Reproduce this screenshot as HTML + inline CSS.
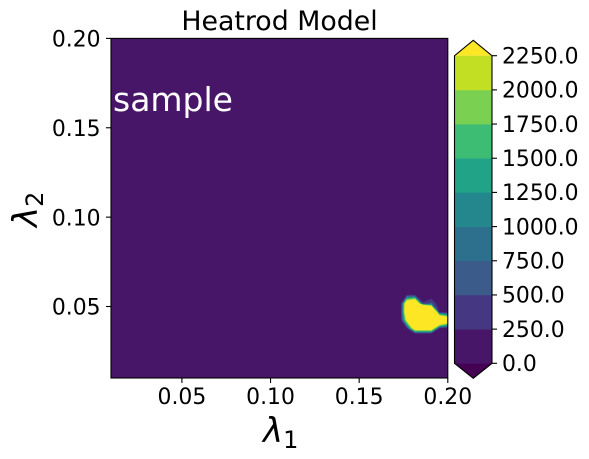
<!DOCTYPE html>
<html>
<head>
<meta charset="utf-8">
<style>
html,body{margin:0;padding:0;background:#fff;width:589px;height:459px;overflow:hidden}
svg{display:block}
text{font-family:"DejaVu Sans","Liberation Sans",sans-serif;fill:#000}
</style>
</head>
<body>
<svg id="chart" xmlns="http://www.w3.org/2000/svg" width="589" height="459" viewBox="0 0 589 459">
  <text x="279.5" y="30" font-size="26.8" text-anchor="middle">Heatrod Model</text>
  <g id="plot"></g>
  <text x="113" y="111" font-size="33" style="fill:#fff">sample</text>
  <g id="axes"></g>
  <text x="263" y="442" font-size="34" font-style="italic">λ<tspan font-size="24" font-style="normal" dy="6">1</tspan></text>
  <text transform="translate(37 227) rotate(-90)" font-size="34" font-style="italic">λ<tspan font-size="24" font-style="normal" dy="6">2</tspan></text>
  <g id="colorbar"></g>
</svg>
<script>
// Contour grid (values in the untouched region are zero)
const lambda1 = [0.01, 0.16756, 0.17339, 0.17683, 0.1815, 0.1861, 0.19073, 0.19537, 0.2];
const lambda2 = [0.01, 0.03462, 0.0378, 0.04244, 0.04707, 0.05171, 0.05634, 0.06098, 0.2];
const fieldRows = [
  [0, 0, 0, 0, 0, 0, 0, 0, 0],
  [0, 0, 0, 0, 0, 0, 0, 0, 0],
  [0, 0, 0, 200, 3200, 3200, 3200, 250, 0],
  [0, 0, 0, 2500, 6000, 6000, 6000, 4900, 3500],
  [0, 0, 0, 3500, 8000, 10500, 6000, 0, 0],
  [0, 0, 0, 3200, 4260, 310, 600, 0, 0],
  [0, 0, 0, 260, 260, 0, 0, 0, 0],
  [0, 0, 0, 0, 0, 0, 0, 0, 0],
  [0, 0, 0, 0, 0, 0, 0, 0, 0]
];
const levels = [0, 250, 500, 750, 1000, 1250, 1500, 1750, 2000, 2250];
const levelLabels = ["0.0", "250.0", "500.0", "750.0", "1000.0", "1250.0", "1500.0", "1750.0", "2000.0", "2250.0"];
const bandColors = ["#481668", "#453781", "#3b5b8b", "#2d708e", "#24878e", "#20a386", "#3dbc74", "#7ad151", "#c2df23", "#fde725"];
const underColor = "#440154";
const xTicks = [0.05, 0.10, 0.15, 0.20];
const yTicks = [0.05, 0.10, 0.15, 0.20];
const tickLabels = ["0.05", "0.10", "0.15", "0.20"];

const NS = "http://www.w3.org/2000/svg";
const L = 111, R = 447.8, T = 38.4, B = 378;
const sx = v => L + (v - 0.01) / 0.19 * (R - L);
const sy = v => B - (v - 0.01) / 0.19 * (B - T);
const cbL = 454.5, cbR = 492, cb0 = 363.3, cbTop = 55.7;
const cy = v => cb0 - (v - levels[0]) / (levels[levels.length - 1] - levels[0]) * (cb0 - cbTop);
const FS = 21.9;

function el(tag, attrs, parent) {
  const e = document.createElementNS(NS, tag);
  for (const k in attrs) e.setAttribute(k, attrs[k]);
  parent.appendChild(e);
  return e;
}

function clipCell(corners, level) {
  const out = [];
  for (let i = 0; i < corners.length; i++) {
    const a = corners[i], b = corners[(i + 1) % corners.length];
    const ai = a[2] >= level, bi = b[2] >= level;
    if (ai) out.push(a);
    if (ai !== bi) {
      const t = (level - a[2]) / (b[2] - a[2]);
      out.push([a[0] + t * (b[0] - a[0]), a[1] + t * (b[1] - a[1]), level]);
    }
  }
  return out;
}

const plot = document.getElementById("plot");
levels.forEach((level, li) => {
  let d = "";
  for (let r = 0; r < lambda2.length - 1; r++) {
    for (let c = 0; c < lambda1.length - 1; c++) {
      const quad = [
        [sx(lambda1[c]), sy(lambda2[r]), fieldRows[r][c]],
        [sx(lambda1[c + 1]), sy(lambda2[r]), fieldRows[r][c + 1]],
        [sx(lambda1[c + 1]), sy(lambda2[r + 1]), fieldRows[r + 1][c + 1]],
        [sx(lambda1[c]), sy(lambda2[r + 1]), fieldRows[r + 1][c]]
      ];
      const poly = clipCell(quad, level);
      if (poly.length > 2) {
        d += "M" + poly.map(p => p[0].toFixed(2) + " " + p[1].toFixed(2)).join("L") + "Z";
      }
    }
  }
  const band = el("path", {d: d, fill: bandColors[li]}, plot);
  
  
});

const axes = document.getElementById("axes");
const frame = el("rect", {x: L, y: T, width: R - L, height: B - T, fill: "none", stroke: "#000", "stroke-width": 1.1}, axes);



xTicks.forEach((v, i) => {
  const x = sx(v);
  const tick = el("line", {x1: x, x2: x, y1: B, y2: B + 5, stroke: "#000", "stroke-width": 1.1}, axes);
  
  
  const label = el("text", {x: x, y: 404, "font-size": FS, "text-anchor": "middle"}, axes);
  
  
  label.textContent = tickLabels[i];
});

yTicks.forEach((v, i) => {
  const y = sy(v);
  const tick = el("line", {x1: L - 5, x2: L, y1: y, y2: y, stroke: "#000", "stroke-width": 1.1}, axes);
  
  
  const label = el("text", {x: 100.6, y: y + 8.2, "font-size": FS, "text-anchor": "end"}, axes);
  
  
  label.textContent = tickLabels[i];
});

const cbar = document.getElementById("colorbar");
const cbMid = (cbL + cbR) / 2;
const under = el("polygon", {points: `${cbL},${cb0} ${cbR},${cb0} ${cbMid},${cb0 + 15}`, fill: underColor}, cbar);


const over = el("polygon", {points: `${cbL},${cbTop} ${cbR},${cbTop} ${cbMid},${cbTop - 15.4}`, fill: bandColors[bandColors.length - 1]}, cbar);


for (let i = 0; i < levels.length - 1; i++) {
  const seg = el("rect", {x: cbL, y: cy(levels[i + 1]), width: cbR - cbL, height: cy(levels[i]) - cy(levels[i + 1]) + 0.3, fill: bandColors[i]}, cbar);
  
  
}
const outline = el("polygon", {points: `${cbL},${cb0} ${cbMid},${cb0 + 15} ${cbR},${cb0} ${cbR},${cbTop} ${cbMid},${cbTop - 15.4} ${cbL},${cbTop}`, fill: "none", stroke: "#000", "stroke-width": 1.1}, cbar);


levels.forEach((v, i) => {
  const y = cy(v);
  const tick = el("line", {x1: cbR, x2: cbR + 5, y1: y, y2: y, stroke: "#000", "stroke-width": 1.1}, cbar);
  
  
  const label = el("text", {x: 502, y: y + 7.8, "font-size": FS}, cbar);
  
  
  label.textContent = levelLabels[i];
});
</script>
</body>
</html>
